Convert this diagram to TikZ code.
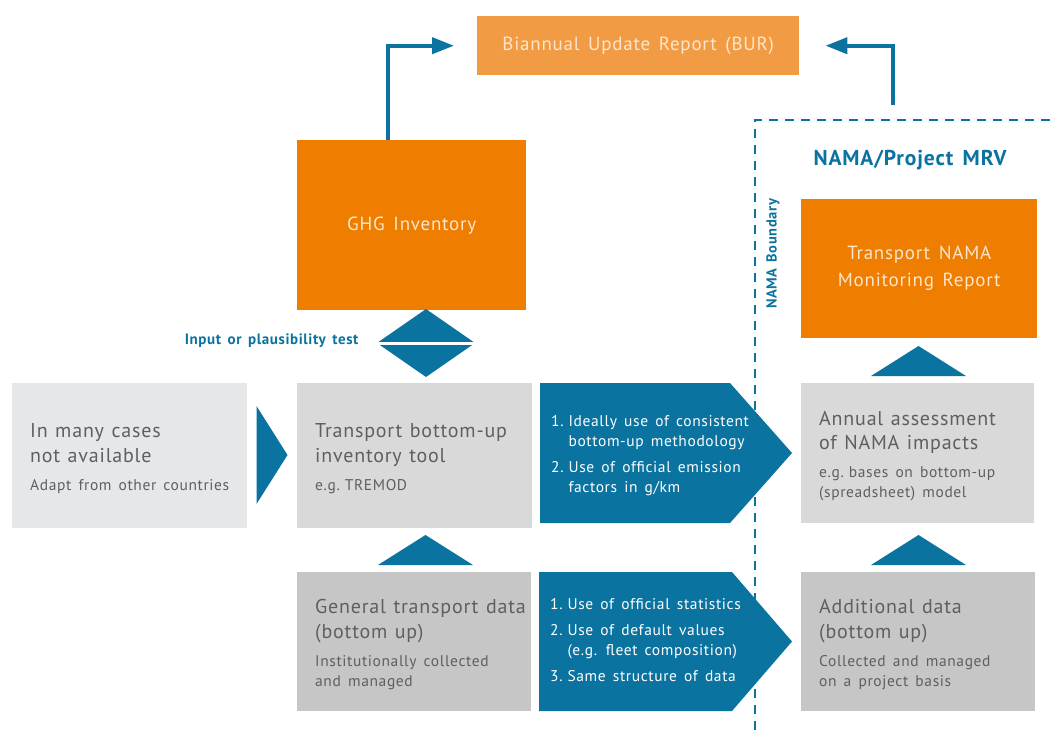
\documentclass[tikz,border=0pt]{standalone}
\usepackage{fontspec}
\setmainfont{PT Sans}[LetterSpace=4, WordSpace=1.5]
\usetikzlibrary{arrows.meta}
\definecolor{bl}{HTML}{0B739F}
\definecolor{org}{HTML}{EE7D00}
\definecolor{orgl}{HTML}{F29B45}
\definecolor{gA}{HTML}{E6E7E9}
\definecolor{gB}{HTML}{D9D9D9}
\definecolor{gC}{HTML}{C6C6C6}
\definecolor{tg}{HTML}{5F5F5F}
\definecolor{cream}{HTML}{FDE6CC}
\tikzset{
  box/.style={rectangle, anchor=north west, inner xsep=0pt, inner ysep=0pt, align=left, text=tg},
  obox/.style={rectangle, anchor=north west, inner sep=0pt, align=center, text=cream, fill=org,
    font=\fontsize{19}{27}\selectfont},
  conn/.style={draw=bl, line width=4pt, -{Triangle[length=22pt,width=16pt]}},
  bound/.style={draw=bl, line width=2.2pt, dash pattern=on 9pt off 7pt},
  bluetxt/.style={anchor=west, text=white, inner sep=0pt, align=left}
}
\newcommand{\bigt}{\leftskip=18pt\rightskip=-8pt plus 1fil\fontsize{20}{24.5}\selectfont\spaceskip=7.5pt plus 2pt minus 1pt\relax}
\newcommand{\smallt}{\par\vspace{8pt}\fontsize{15.5}{20}\selectfont\spaceskip=0pt\relax}
\newcommand{\fint}{\par\vspace{-6pt}}
\newcommand{\bluet}{\fontsize{15.5}{20}\selectfont}
\begin{document}
\begin{tikzpicture}[x=1pt,y=-1pt]
\useasboundingbox (0,0) rectangle (1054,736);
\fill[white] (0,0) rectangle (1054,736);

% top report
\node[obox, fill=orgl, minimum width=322pt, minimum height=59pt] (bur) at (477,16)
  {Biannual Update Report (BUR)};
\node[obox, minimum width=229pt, minimum height=170pt] (ghg) at (297,140)
  {GHG Inventory};

% NAMA boundary
\coordinate (bt) at (893,105);
\draw[bound] (755,730) -- (755,120) -- (1054,120);
\node[text=bl, font=\fontsize{21.5}{26}\selectfont\bfseries, anchor=center] (mrv) at (910,160) {NAMA/Project MRV};
\node[text=bl, font=\fontsize{14.5}{16}\selectfont\bfseries, rotate=90] (nb) at (773,254) {NAMA Boundary};
\node[obox, minimum width=236pt, minimum height=139pt] (tnm) at (801,199)
  {Transport NAMA\\Monitoring Report};

% connectors to BUR
\draw[conn, shorten >=23pt] ([xshift=-24pt]ghg.north) |- (bur.west);
\draw[conn, shorten >=26pt] (bt) |- (bur.east);

% diamond
\node[text=bl, font=\fontsize{15}{16}\selectfont\bfseries, anchor=east] (ipt) at (362,341) {Input or plausibility test};
\fill[bl] (377,343) -- (426,309) -- (475,343) -- (426,377) -- cycle;
\draw[white, line width=3pt] (370,343) -- (482,343);

% middle row
\node[box, fill=gA, minimum width=235pt, minimum height=145pt, text width=235pt] (na) at (12,383)
  {\bigt In many cases\\not available\smallt Adapt from other countries\fint};
\fill[bl] (256.5,406) -- (287.5,455) -- (256.5,504) -- cycle;
\node[box, fill=gB, minimum width=235pt, minimum height=145pt, text width=235pt] (tool) at (297,383)
  {\bigt Transport bottom-up\\inventory tool\smallt e.g. TREMOD\fint};
\fill[bl] (540,383) -- (730,383) -- (792,453) -- (730,523) -- (540,523) -- cycle;
\node[bluetxt] (m1) at (551,455)
  {\bluet\begin{tabular}{@{}l@{\hspace{5pt}}l@{}}1. & Ideally use of consistent\\ & bottom-up methodology\\[6pt]
  2. & Use of official emission\\ & factors in g/km\end{tabular}};
\node[box, fill=gB, minimum width=233pt, minimum height=140pt, text width=233pt] (ann) at (801,383)
  {\bigt Annual assessment\\of NAMA impacts\smallt e.g. bases on bottom-up\\(spreadsheet) model\fint};

% up triangles
\fill[bl] (871,376) -- (918.5,346) -- (966,376) -- cycle;
\fill[bl] (378,565) -- (425.5,535) -- (473,565) -- cycle;
\fill[bl] (871,565) -- (918.5,535) -- (966,565) -- cycle;

% bottom row
\node[box, fill=gC, minimum width=234pt, minimum height=139pt, text width=234pt] (gen) at (297,572)
  {\bigt General transport data\\(bottom up)\smallt Institutionally collected\\and managed\fint};
\fill[bl] (539,572) -- (732,572) -- (792,641.5) -- (732,711) -- (539,711) -- cycle;
\node[bluetxt] (m2) at (550,641)
  {\bluet\begin{tabular}{@{}l@{\hspace{5pt}}l@{}}1. & Use of official statistics\\[6pt]
  2. & Use of default values\\ & (e.g. fleet composition)\\[6pt]
  3. & Same structure of data\end{tabular}};
\node[box, fill=gC, minimum width=234pt, minimum height=139pt, text width=234pt] (add) at (801,572)
  {\bigt Additional data\\(bottom up)\smallt Collected and managed\\on a project basis\fint};
\end{tikzpicture}
\end{document}
